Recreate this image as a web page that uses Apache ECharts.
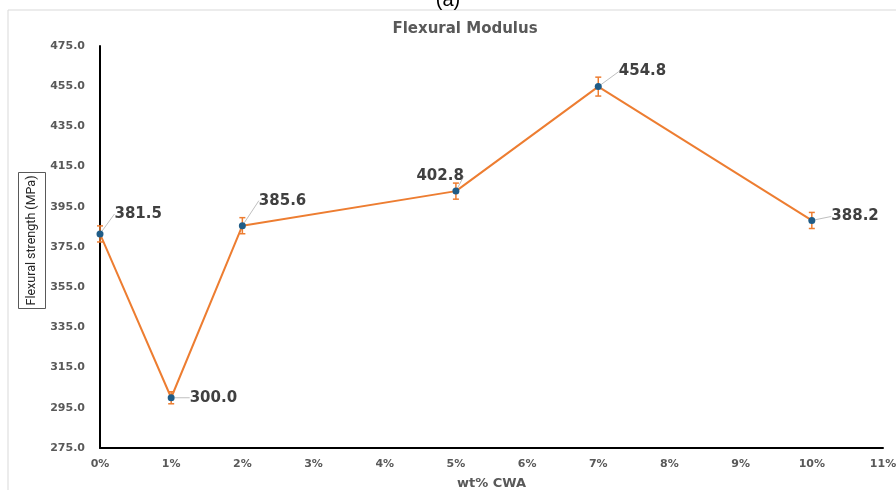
<!DOCTYPE html>
<html>
<head>
<meta charset="utf-8">
<script src="https://cdn.jsdelivr.net/npm/echarts@6/dist/echarts.min.js"></script>
<style>
  html, body { margin: 0; padding: 0; background: #fff; }
  #chart { width: 896px; height: 490px; }
</style>
</head>
<body>
<div id="chart"></div>
<script>
// CWA loading (wt%) and measured flexural values (MPa) with their spread
const cwaLoading = [0, 1, 2, 5, 7, 10];
const flexValues = [381.5, 300.0, 385.6, 402.8, 454.8, 388.2];
const flexErrors = [4, 3, 4, 4, 4.7, 4];
const yTicks = { min: 275, max: 475, step: 20 };
const xTicks = { min: 0, max: 11, step: 1 };

// label nudges (px) for the value callouts
const labelNudge = [[6, -20], [10, 0], [8, -25], [-48, -15], [12, -15], [11, -4]];

const points = cwaLoading.map((x, i) => [x, flexValues[i]]);
const errData = cwaLoading.map((x, i) => [x, flexValues[i] - flexErrors[i], flexValues[i] + flexErrors[i]]);

const tickColor = '#595959';
const orange = '#ed7d31';
const boldFont = 'DejaVu Sans';

const chart = echarts.init(document.getElementById('chart'), null, { renderer: 'canvas' });
chart.setOption({
  animation: false,
  backgroundColor: '#ffffff',
  title: {
    text: 'Flexural Modulus',
    left: 460, top: 17, textAlign: 'center',
    textStyle: { fontFamily: boldFont, fontWeight: 'bold', fontSize: 15, color: tickColor }
  },
  graphic: [
    { type: 'rect', shape: { x: 8, y: 10, width: 900, height: 490 },
      style: { fill: 'none', stroke: '#d9d9d9', lineWidth: 1 }, silent: true },
    { type: 'text', left: 'center', top: -10,
      style: { text: '(a)', fontFamily: 'Liberation Sans', fontSize: 20, fill: '#000' } },
    { type: 'group', left: 18, top: 172, children: [
      { type: 'rect', shape: { x: 0, y: 0, width: 27, height: 136 },
        style: { fill: '#fff', stroke: '#595959', lineWidth: 1 } },
      { type: 'text', x: 13.5, y: 68, rotation: Math.PI / 2,
        style: { text: 'Flexural strength (MPa)', fontFamily: 'Liberation Sans Narrow, Roboto', fontSize: 12.5,
                 fill: '#262626', align: 'center', verticalAlign: 'middle' } }
    ] }
  ],
  grid: { left: 100, width: 783, top: 46, height: 402, outerBoundsMode: 'none', containLabel: false },
  xAxis: {
    type: 'value', min: xTicks.min, max: xTicks.max, interval: xTicks.step,
    name: 'wt% CWA', nameLocation: 'middle', nameGap: 29,
    nameTextStyle: { fontFamily: boldFont, fontWeight: 'bold', fontSize: 13, color: tickColor },
    axisLine: { lineStyle: { color: '#000', width: 2 } },
    axisTick: { show: false },
    splitLine: { show: false },
    axisLabel: { formatter: '{value}%', margin: 11, color: tickColor,
                 fontFamily: boldFont, fontWeight: 'bold', fontSize: 11 }
  },
  yAxis: {
    type: 'value', min: yTicks.min, max: yTicks.max, interval: yTicks.step,
    axisLine: { show: true, lineStyle: { color: '#000', width: 2 } },
    axisTick: { show: false },
    splitLine: { show: false },
    axisLabel: { formatter: v => v.toFixed(1), margin: 15, color: tickColor,
                 fontFamily: boldFont, fontWeight: 'bold', fontSize: 11 }
  },
  series: [
    {
      type: 'line',
      data: points,
      z: 3,
      lineStyle: { color: orange, width: 2 },
      symbol: 'circle', symbolSize: 7,
      itemStyle: { color: '#1f5c87' },
      label: {
        show: true, position: 'right', distance: 5,
        formatter: p => p.value[1].toFixed(1),
        fontFamily: boldFont, fontWeight: 'bold', fontSize: 15, color: '#404040'
      },
      labelLine: { show: true, lineStyle: { color: '#bfbfbf', width: 1 } },
      labelLayout: p => ({ dx: labelNudge[p.dataIndex][0], dy: labelNudge[p.dataIndex][1] })
    },
    {
      type: 'custom',
      data: errData,
      z: 2,
      renderItem: (params, api) => {
        const lo = api.coord([api.value(0), api.value(1)]);
        const hi = api.coord([api.value(0), api.value(2)]);
        const w = 3;
        const st = { stroke: orange, lineWidth: 1.5 };
        return { type: 'group', children: [
          { type: 'line', shape: { x1: lo[0], y1: lo[1], x2: hi[0], y2: hi[1] }, style: st },
          { type: 'line', shape: { x1: lo[0] - w, y1: lo[1], x2: lo[0] + w, y2: lo[1] }, style: st },
          { type: 'line', shape: { x1: hi[0] - w, y1: hi[1], x2: hi[0] + w, y2: hi[1] }, style: st }
        ] };
      }
    }
  ]
});
</script>
</body>
</html>
